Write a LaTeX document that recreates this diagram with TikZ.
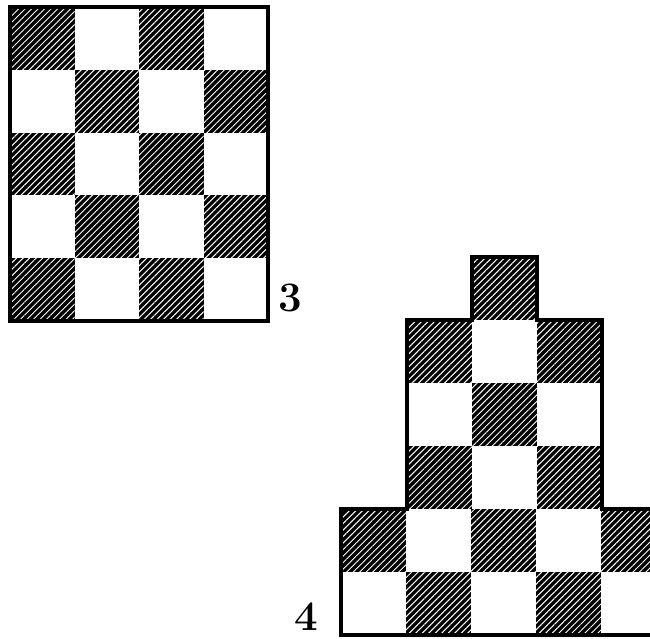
\documentclass[tikz,border=0pt]{standalone}
\usetikzlibrary{patterns.meta}
\begin{document}
\begin{tikzpicture}[x=1pt,y=-1pt,
  dark/.style={fill=black, postaction={pattern={Lines[angle=45,distance=4.6pt,line width=1.0pt]}, pattern color=white}},
  outline/.style={draw=black, line width=3.2pt, line join=miter},
  numlabel/.style={inner sep=0pt, font=\fontsize{42}{42}\selectfont\bfseries}]
\useasboundingbox (0,0) rectangle (650,639);
\clip (0,0) rectangle (650,639);
% figure 3: 4 x 5 checkerboard
\foreach \r in {0,...,4} {
  \foreach \c in {0,...,3} {
    \pgfmathtruncatemacro{\myparity}{mod(\r+\c,2)}
    \ifnum\myparity=0
      \path[dark] ({10+64.5*\c},{7+62.8*\r}) rectangle ++(64.5,62.8);
    \fi
  }
}
\draw[outline] (10,7) rectangle (268,321);
\node[numlabel] (lab3) at (290,298) {3};
% figure 4: stepped checkerboard
\path[dark] (472,257) rectangle (537,320);
\foreach \c in {1,...,3} {
  \foreach \r in {1,...,3} {
    \pgfmathtruncatemacro{\myparity}{mod(\r+\c,2)}
    \ifnum\myparity=0
      \path[dark] ({407+65*(\c-1)},{320+63*(\r-1)}) rectangle ++(65,63);
    \fi
  }
}
\foreach \c in {0,...,4} {
  \foreach \r in {0,1} {
    \pgfmathtruncatemacro{\myparity}{mod(\r+\c,2)}
    \ifnum\myparity=0
      \path[dark] ({341+65*\c},{509+63*\r}) rectangle ++(65,63);
    \fi
  }
}
\draw[outline] (341,635) -- (341,509) -- (407,509) -- (407,320) -- (472,320) -- (472,257)
  -- (537,257) -- (537,320) -- (602,320) -- (602,509) -- (667,509) -- (667,635) -- cycle;
\node[numlabel] (lab4) at (306,617) {4};
\end{tikzpicture}
\end{document}
